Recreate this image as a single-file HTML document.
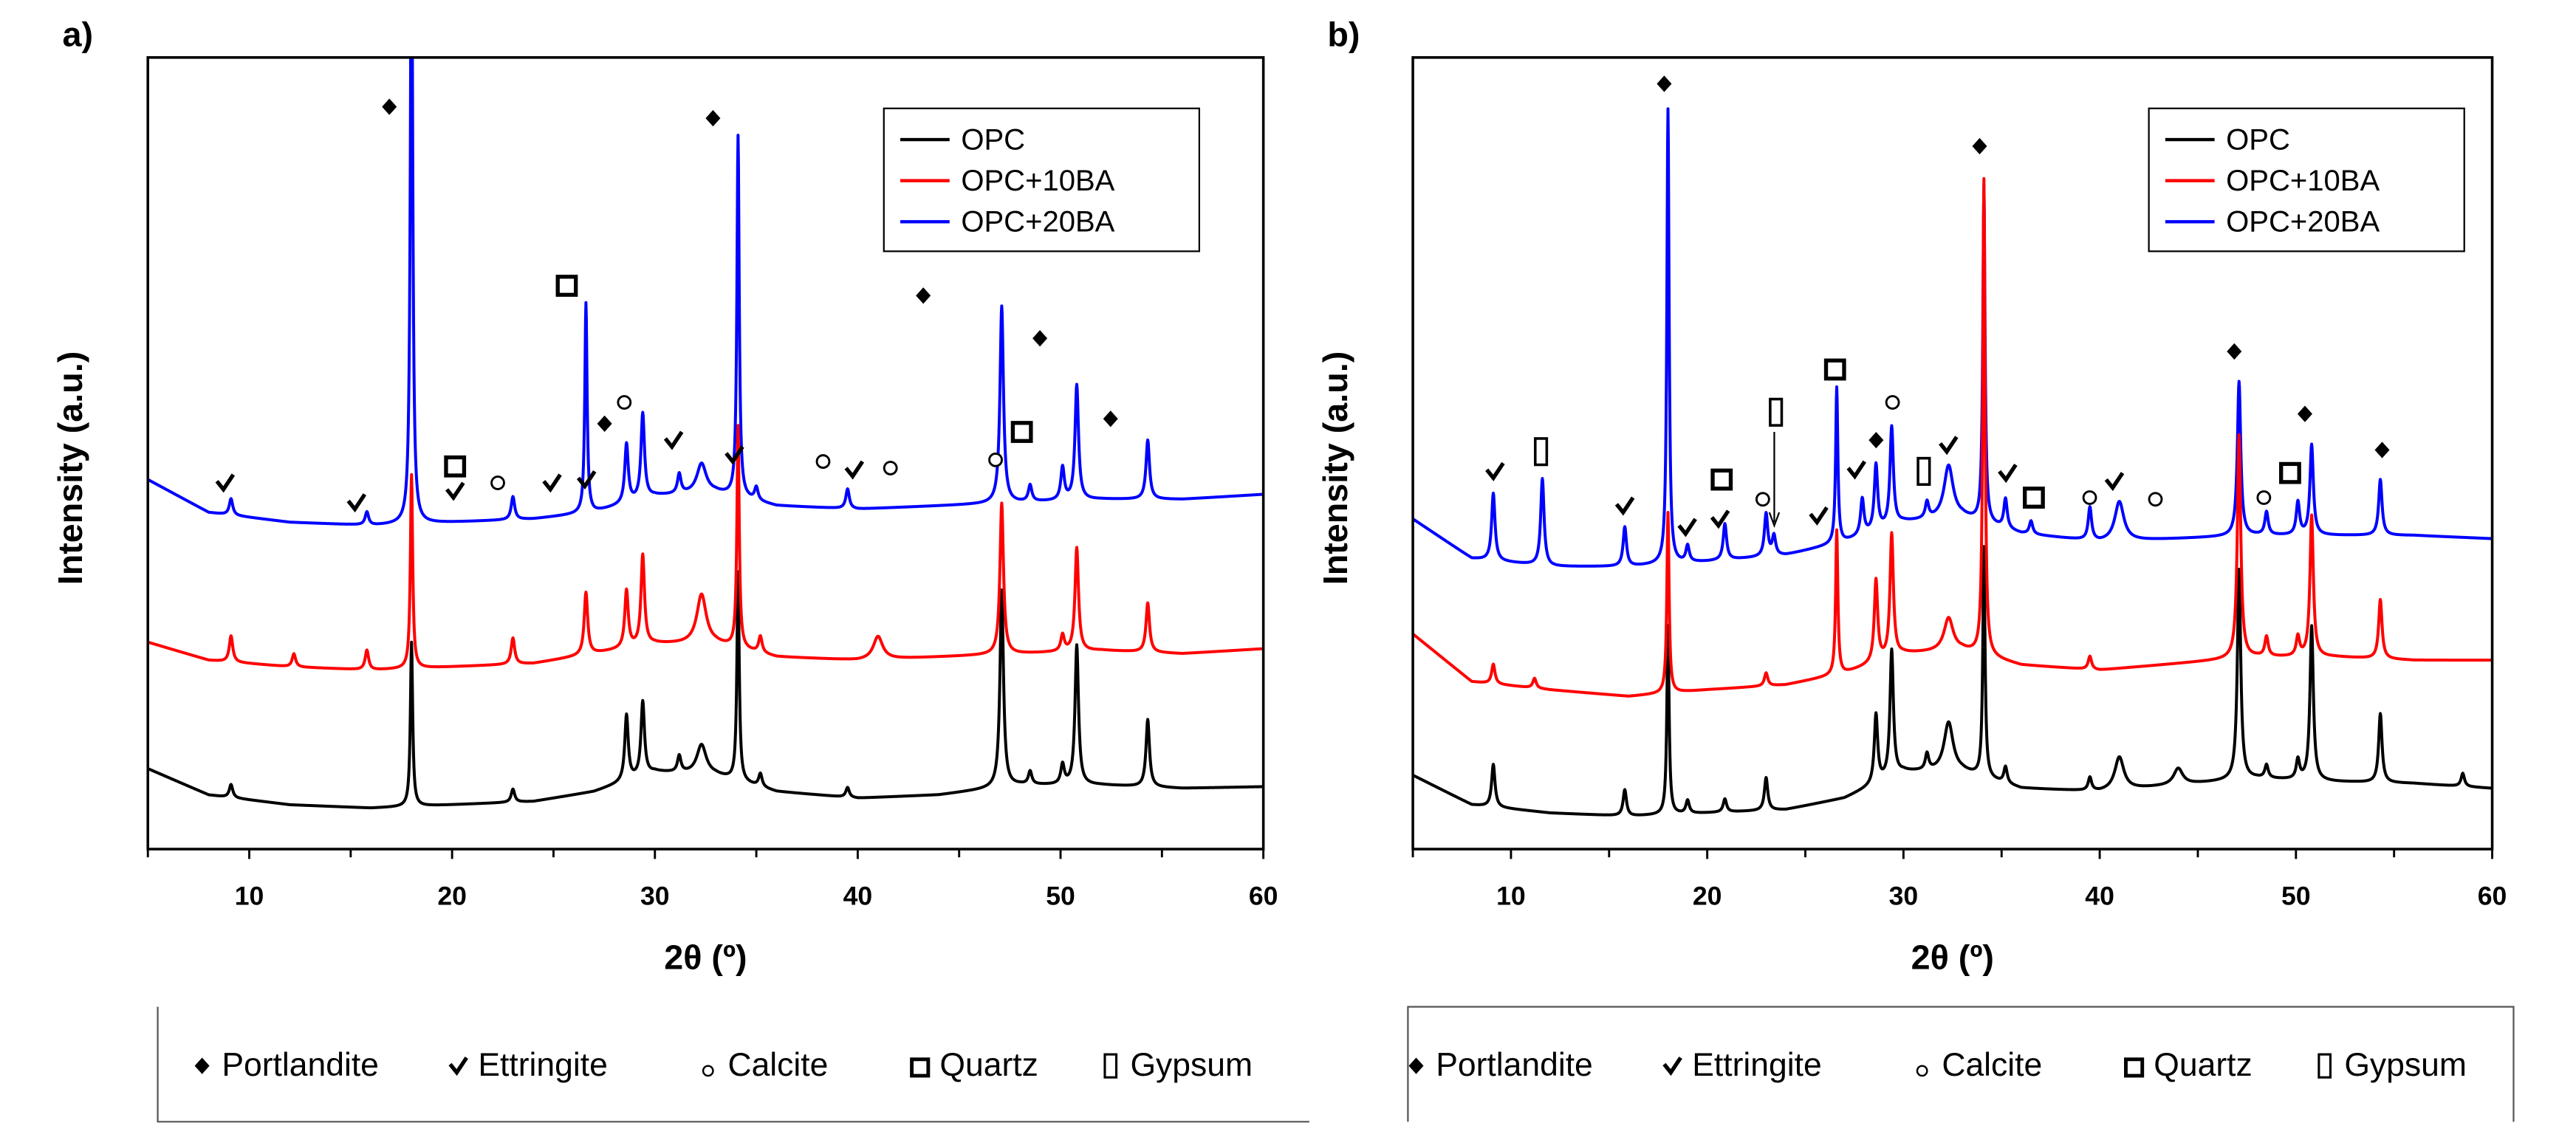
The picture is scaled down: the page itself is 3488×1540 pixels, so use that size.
<!DOCTYPE html>
<html><head><meta charset="utf-8">
<style>
html,body{margin:0;padding:0;background:#fff;}
svg{display:block;}
text{font-family:"Liberation Sans",Arial,sans-serif;}
</style></head>
<body>
<svg id="fig" xmlns="http://www.w3.org/2000/svg" width="3488" height="1540" viewBox="0 0 1568 692.3">
  <defs>
    <clipPath id="clipA"><rect x="90" y="35" width="679" height="482"/></clipPath>
    <clipPath id="clipB"><rect x="860" y="35" width="657" height="482"/></clipPath>
  </defs>
  <g id="panelA"></g>
  <g id="panelB"></g>
</svg>
<script>
// ---------- DATA ----------
const xTicks = [10,20,30,40,50,60];
const bgX = [5,8,12,16,20,24,27,30,33,36,40,44,48,52,56,60];
// panel a backgrounds (intensity, a.u.)
const aBgOPC  = [49,33,27,25,27,29,35,47,45,35,31,33,39,39,37,38];
const aBg10BA = [126,115,111,109,111,113,119,125,125,117,115,117,119,121,119,122];
const aBg20BA = [225,205,199,197,199,201,205,215,217,209,207,209,211,213,213,216];
// panel a peaks
const aPosOPC  = [9.1,18.0,23.0,28.6,29.4,31.2,32.3,34.1,35.2,39.5,47.1,48.5,50.1,50.8,54.3];
const aHOPC    = [8,100,8,40,45,10,18,127,8,6,120,8,12,85,41];
const aPos10BA = [9.1,12.2,15.8,18.0,23.0,26.6,28.6,29.4,32.3,34.1,35.2,41.0,47.1,50.1,50.8,54.3];
const aH10BA   = [16,8,12,118,16,38,35,55,30,135,10,14,92,10,63,30];
const aPos20BA = [9.1,15.8,18.0,23.0,26.6,28.6,29.4,31.2,32.3,34.1,35.0,39.5,47.1,48.5,50.1,50.8,54.3];
const aH20BA   = [10,8,400,14,128,36,52,12,18,220,8,12,120,10,20,70,36];
// panel b backgrounds
const bBgOPC  = [45,27,22,20,22,24,31,47,47,37,35,39,43,41,40,37];
const bBg10BA = [131,102,97,93,97,100,107,119,121,112,109,113,117,117,115,115];
const bBg20BA = [201,177,172,172,175,179,187,199,202,192,187,189,191,191,191,189];
// panel b peaks
const bPosOPC  = [9.1,15.8,18.0,19.0,20.9,23.0,28.6,29.4,31.2,32.3,34.1,35.2,39.5,41.0,44.0,47.1,48.5,50.1,50.8,54.3,58.5];
const bHOPC    = [26,16,115,8,8,20,42,77,10,30,140,10,8,20,10,128,8,12,94,42,8];
const bPos10BA = [9.1,11.2,18.0,23.0,26.6,28.6,29.4,32.3,34.1,39.5,47.1,48.5,50.1,50.8,54.3];
const bH10BA   = [12,6,110,8,88,50,75,20,290,8,136,12,12,86,36];
const bPos20BA = [9.1,11.6,15.8,18.0,19.0,20.9,23.0,23.4,26.6,27.9,28.6,29.4,31.2,32.3,34.1,35.2,36.5,39.5,41.0,47.1,48.5,50.1,50.8,54.3];
const bH20BA   = [41,53,24,277,10,22,26,12,95,22,40,60,10,32,205,18,8,20,24,94,14,20,55,34];

const seriesNames = ['OPC','OPC+10BA','OPC+20BA'];
const seriesColors = ['#000000','#ff0000','#0000ff'];

// ---------- helpers ----------
const NS='http://www.w3.org/2000/svg';
function mk(tag, attrs, parent){const e=document.createElementNS(NS,tag);for(const k in attrs)e.setAttribute(k,attrs[k]);parent.appendChild(e);return e;}
function interp(xs,ys,x){for(let i=0;i<xs.length-1;i++){if(x<=xs[i+1]){const t=(x-xs[i])/(xs[i+1]-xs[i]);return ys[i]+t*(ys[i+1]-ys[i]);}}return ys[ys.length-1];}
function widthFor(p,h){ if(p===32.3||p===41.0||p===44.0) return 0.35; if(h>60 && (p===18.0||p===26.6||p===34.1)) return 0.085; return 0.13; }
function profile(bg,pos,hs,x){let v=interp(bgX,bg,x);for(let i=0;i<pos.length;i++){const w=widthFor(pos[i],hs[i]);const d=(x-pos[i])/w;v+=hs[i]/(1+d*d*1.6);}return v;}

function drawPanel(gId, clipId, L, R, bgs, poss, hss, label, legendX, bottomBox){
  const g=document.getElementById(gId);
  const T=35,B=517;
  const xs=v=>L+(v-5)*(R-L)/55;
  const ys=v=>B-v;
  const cg=mk('g',{'clip-path':'url(#'+clipId+')'},g);
  
  
  const order=[0,2,1];
  order.forEach(si=>{
    let d='';
    for(let x=5;x<=60.0001;x+=0.02){
      const v=profile(bgs[si],poss[si],hss[si],x);
      d+=(d?'L':'M')+xs(x).toFixed(2)+','+ys(v).toFixed(2);
    }
    const p=mk('path',{d:d,fill:'none',stroke:seriesColors[si],'stroke-width':'1.8','stroke-linejoin':'round'},cg);
    
    
  });
  const fr=mk('rect',{x:L,y:T,width:R-L,height:B-T,fill:'none',stroke:'#000','stroke-width':'1.6'},g);
  
  
  for(let v=5;v<=60;v+=5){
    const major=v%10===0;
    const t=mk('line',{x1:xs(v),x2:xs(v),y1:B,y2:B+(major?6:5),stroke:'#000','stroke-width':'1.3'},g);
    
    
  }
  xTicks.forEach(v=>{
    const t=mk('text',{x:xs(v),y:551,'text-anchor':'middle','font-size':'16','font-weight':'bold'},g);
    t.textContent=v;
    
    
  });
  const xt=mk('text',{x:(L+R)/2,y:590,'text-anchor':'middle','font-size':'21','font-weight':'bold'},g);
  xt.textContent='2θ (º)';
  
  
  const yt=mk('text',{x:0,y:0,'text-anchor':'middle','font-size':'21','font-weight':'bold',transform:'translate('+(L-40)+',285) rotate(-90)'},g);
  yt.textContent='Intensity (a.u.)';
  
  
  const pl=mk('text',{x:L-52,y:28,'font-size':'21','font-weight':'bold'},g);
  pl.textContent=label;
  
  
  const lg=mk('g',{},g);
  
  
  mk('rect',{x:legendX,y:66,width:192,height:87,fill:'#fff',stroke:'#000','stroke-width':'1'},lg);
  [0,1,2].forEach(i=>{
    const yy=91+i*25;
    mk('line',{x1:legendX+10,x2:legendX+40,y1:yy-6,y2:yy-6,stroke:seriesColors[i],'stroke-width':'2'},lg);
    const tx=mk('text',{x:legendX+47,y:yy,'font-size':'18'},lg);
    tx.textContent=seriesNames[i];
    
    
  });
  const bl=mk('g',{},g);
  
  
  bottomBox(bl);
}

function diamond(g,x,y){const e=mk('path',{d:`M${x},${y-5}L${x+4.5},${y}L${x},${y+5}L${x-4.5},${y}Z`,fill:'#000'},g);}
function check(g,x,y){const e=mk('path',{d:`M${x-5},${y-1}L${x-1},${y+4}L${x+5},${y-5}`,fill:'none',stroke:'#000','stroke-width':'2.4'},g);}
function circ(g,x,y){const e=mk('circle',{cx:x,cy:y,r:3.8,fill:'#fff',stroke:'#000','stroke-width':'1.3'},g);}
function square(g,x,y){const e=mk('rect',{x:x-5.5,y:y-5.5,width:11,height:11,fill:'#fff',stroke:'#000','stroke-width':'2.4'},g);}
function gyps(g,x,y){const e=mk('rect',{x:x-3.5,y:y-8,width:7,height:16,fill:'#fff',stroke:'#000','stroke-width':'1.6'},g);}

function phaseLegend(g,x0,y){
  const items=[['Portlandite',diamond],['Ettringite',check],['Calcite',circ],['Quartz',square],['Gypsum',gyps]];
  let x=x0;
  const gaps=[22,27,25,26,24];
  const widths=[122,113,92,78,90];
  items.forEach((it,i)=>{
    if(it[1]===circ){const e=mk('circle',{cx:x,cy:y-3,r:3,fill:'#fff',stroke:'#000','stroke-width':'1.1'},g);}
    else if(it[1]===gyps){const e=mk('rect',{x:x-3.5,y:y-13,width:7,height:14,fill:'#fff',stroke:'#000','stroke-width':'1.4'},g);}
    else if(it[1]===square){const e=mk('rect',{x:x-5,y:y-10,width:10,height:10,fill:'#fff',stroke:'#000','stroke-width':'2.2'},g);}
    else it[1](g,x,y-6);
    const t=mk('text',{x:x+12,y:y,'font-size':'20'},g);
    t.textContent=it[0];
    
    
    x+=12+widths[i]+gaps[i];
  });
}

drawPanel('panelA','clipA',90,769,[aBgOPC,aBg10BA,aBg20BA],[aPosOPC,aPos10BA,aPos20BA],[aHOPC,aH10BA,aH20BA],'a)',538,
  g=>{mk('path',{d:'M96,613V683H797',fill:'none',stroke:'#555','stroke-width':'1'},g);phaseLegend(g,123,655);});
drawPanel('panelB','clipB',860,1517,[bBgOPC,bBg10BA,bBg20BA],[bPosOPC,bPos10BA,bPos20BA],[bHOPC,bH10BA,bH20BA],'b)',1308,
  g=>{mk('path',{d:'M857,683V613H1530V683',fill:'none',stroke:'#555','stroke-width':'1'},g);phaseLegend(g,862,655);});

const A=document.getElementById('panelA');
const ann=mk('g',{},A);


[[237,65],[434,72],[368,258],[562,180],[633,206],[676,255]].forEach(p=>diamond(ann,p[0],p[1]));
[[345,174],[277,284],[622,263]].forEach(p=>square(ann,p[0],p[1]));
[[380,245],[303,294],[501,281],[542,285],[606,280]].forEach(p=>circ(ann,p[0],p[1]));
[[137,294],[217,306],[277,299],[336,294],[357,292],[410,268],[447,277],[520,286]].forEach(p=>check(ann,p[0],p[1]));

const Bp=document.getElementById('panelB');
const bn=mk('g',{},Bp);


[[1013,51],[1205,89],[1360,214],[1142,268],[1403,252],[1450,274]].forEach(p=>diamond(bn,p[0],p[1]));
[[1117,225],[1048,292],[1238,303],[1394,288]].forEach(p=>square(bn,p[0],p[1]));
[[938,275],[1081,251],[1171,287]].forEach(p=>gyps(bn,p[0],p[1]));
[[1152,245],[1073,304],[1272,303],[1312,304],[1378,303]].forEach(p=>circ(bn,p[0],p[1]));
[[910,287],[989,308],[1027,321],[1047,316],[1107,314],[1130,286],[1186,271],[1222,288],[1287,293]].forEach(p=>check(bn,p[0],p[1]));
const ar=mk('path',{d:'M1080,263V318M1077,312L1080,320L1083,312',fill:'none',stroke:'#000','stroke-width':'1'},bn);


</script>
</body></html>
